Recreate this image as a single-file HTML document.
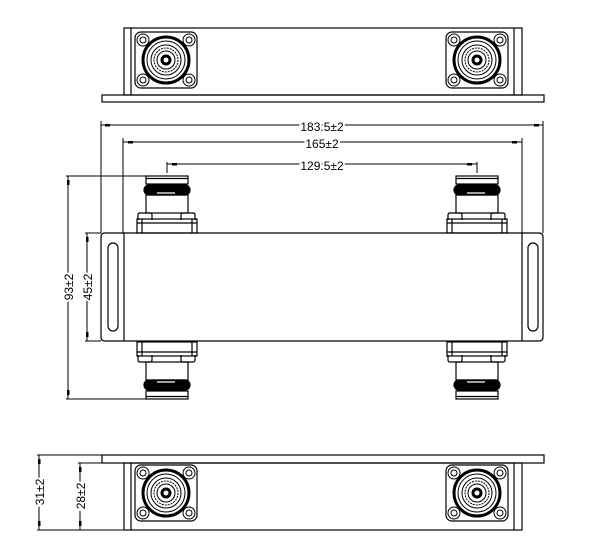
<!DOCTYPE html>
<html><head><meta charset="utf-8"><style>html,body{margin:0;padding:0;background:#fff}svg{display:block}</style></head><body>
<svg width="616" height="554" viewBox="0 0 616 554" xmlns="http://www.w3.org/2000/svg" font-family="Liberation Sans, sans-serif">
<defs>
<g id="face" fill="none" stroke="#000">
  <rect x="-31" y="-28" width="62" height="56" rx="6" stroke-width="1.2"/>
  <circle cx="-23" cy="-20" r="6"/><circle cx="23" cy="-20" r="6"/>
  <circle cx="-23" cy="20" r="6"/><circle cx="23" cy="20" r="6"/>
  <circle cx="-23" cy="-20" r="3"/><circle cx="23" cy="-20" r="3"/>
  <circle cx="-23" cy="20" r="3"/><circle cx="23" cy="20" r="3"/>
  <circle r="23" stroke-width="3"/>
  <circle r="19"/><circle r="15"/><circle r="12" stroke-dasharray="2 1"/><circle r="9"/>
  <circle r="5" fill="#000"/><circle r="2.5" fill="#fff" stroke="none"/>
</g>
<g id="side" fill="none" stroke="#000" stroke-width="1.2">
  <rect x="-21" y="0" width="42" height="8"/>
  <line x1="-21" y1="2.5" x2="21" y2="2.5"/>
  <rect x="-23" y="9" width="46" height="10" rx="5" fill="#000"/>
  <line x1="-10" y1="17" x2="8" y2="17" stroke="#fff"/>
  <rect x="-21" y="19" width="42" height="18"/>
  <path d="M-29 44 v-5 q0-2 2-2 h10 q2 0 2 2 v5"/>
  <path d="M14 44 v-5 q0-2 2-2 h10 q2 0 2 2 v5"/>
  <rect x="-30" y="43" width="60" height="14"/>
  <line x1="-25" y1="43" x2="-25" y2="57"/><line x1="25" y1="43" x2="25" y2="57"/>
  <line x1="-30" y1="47" x2="30" y2="47"/>
</g>
</defs>
<g fill="none" stroke="#000" stroke-width="1.2">
<!-- top view -->
<rect x="102" y="95" width="442" height="7"/>
<rect x="124" y="28" width="398" height="67"/>
<line x1="131" y1="28" x2="131" y2="95"/><line x1="514" y1="28" x2="514" y2="95"/>
<!-- bottom view -->
<rect x="102" y="455" width="442" height="8"/>
<rect x="124" y="463" width="398" height="67"/>
<line x1="131" y1="463" x2="131" y2="530"/><line x1="514" y1="463" x2="514" y2="530"/>
<!-- main body -->
<path d="M105 233 H539 q4 0 4 4 V337 q0 4 -4 4 H105 q-4 0 -4 -4 V237 q0 -4 4 -4 Z"/>
<line x1="124" y1="233" x2="124" y2="341"/><line x1="522" y1="233" x2="522" y2="341"/>
<rect x="108" y="243" width="10" height="88" rx="5"/>
<rect x="528" y="243" width="10" height="88" rx="5"/>
</g>
<use href="#face" x="166" y="60"/><use href="#face" x="477" y="60"/>
<use href="#face" x="166" y="493"/><use href="#face" x="477" y="493"/>
<use href="#side" transform="translate(167,176)"/><use href="#side" transform="translate(477,176)"/>
<use href="#side" transform="translate(167,399) scale(1,-1)"/><use href="#side" transform="translate(477,399) scale(1,-1)"/>
<!-- dimensions -->
<g stroke="#000" stroke-width="1" fill="none">
<line x1="101" y1="125" x2="543" y2="125"/><line x1="101" y1="121" x2="101" y2="233"/><line x1="543" y1="121" x2="543" y2="233"/>
<line x1="123" y1="142" x2="522" y2="142"/><line x1="123" y1="138" x2="123" y2="233"/><line x1="522" y1="138" x2="522" y2="233"/>
<line x1="167" y1="164" x2="477" y2="164"/><line x1="167" y1="162" x2="167" y2="173"/><line x1="477" y1="162" x2="477" y2="173"/>
<line x1="68" y1="176" x2="68" y2="399"/><line x1="66" y1="176" x2="146" y2="176"/><line x1="66" y1="399" x2="146" y2="399"/>
<line x1="87" y1="233" x2="87" y2="341"/><line x1="85" y1="233" x2="101" y2="233"/><line x1="85" y1="341" x2="101" y2="341"/>
<line x1="39" y1="455" x2="39" y2="530"/><line x1="37" y1="455" x2="102" y2="455"/><line x1="37" y1="530" x2="124" y2="530"/>
<line x1="80" y1="463" x2="80" y2="530"/><line x1="78" y1="463" x2="124" y2="463"/>
</g>
<g fill="#000">
<rect x="105" y="124" width="5" height="2.5"/><rect x="534" y="124" width="5" height="2.5"/>
<rect x="128" y="141" width="5" height="2.5"/><rect x="512" y="141" width="5" height="2.5"/>
<rect x="172" y="163" width="5" height="2.5"/><rect x="467" y="163" width="5" height="2.5"/>
<rect x="67" y="180" width="2.5" height="5"/><rect x="67" y="390" width="2.5" height="5"/>
<rect x="86" y="237" width="2.5" height="5"/><rect x="86" y="332" width="2.5" height="5"/>
<rect x="38" y="459" width="2.5" height="5"/><rect x="38" y="521" width="2.5" height="5"/>
<rect x="79" y="467" width="2.5" height="5"/><rect x="79" y="521" width="2.5" height="5"/>
</g>
<g font-size="12" fill="#000" text-anchor="middle">
<text x="322" y="131" stroke="#fff" stroke-width="4" paint-order="stroke">183.5±2</text>
<text x="322" y="148" stroke="#fff" stroke-width="4" paint-order="stroke">165±2</text>
<text x="322" y="170" stroke="#fff" stroke-width="4" paint-order="stroke">129.5±2</text>
<text transform="translate(73,287) rotate(-90)" stroke="#fff" stroke-width="4" paint-order="stroke">93±2</text>
<text transform="translate(92,287) rotate(-90)" stroke="#fff" stroke-width="4" paint-order="stroke">45±2</text>
<text transform="translate(44,492) rotate(-90)" stroke="#fff" stroke-width="4" paint-order="stroke">31±2</text>
<text transform="translate(85,496) rotate(-90)" stroke="#fff" stroke-width="4" paint-order="stroke">28±2</text>
</g>
</svg>
</body></html>
